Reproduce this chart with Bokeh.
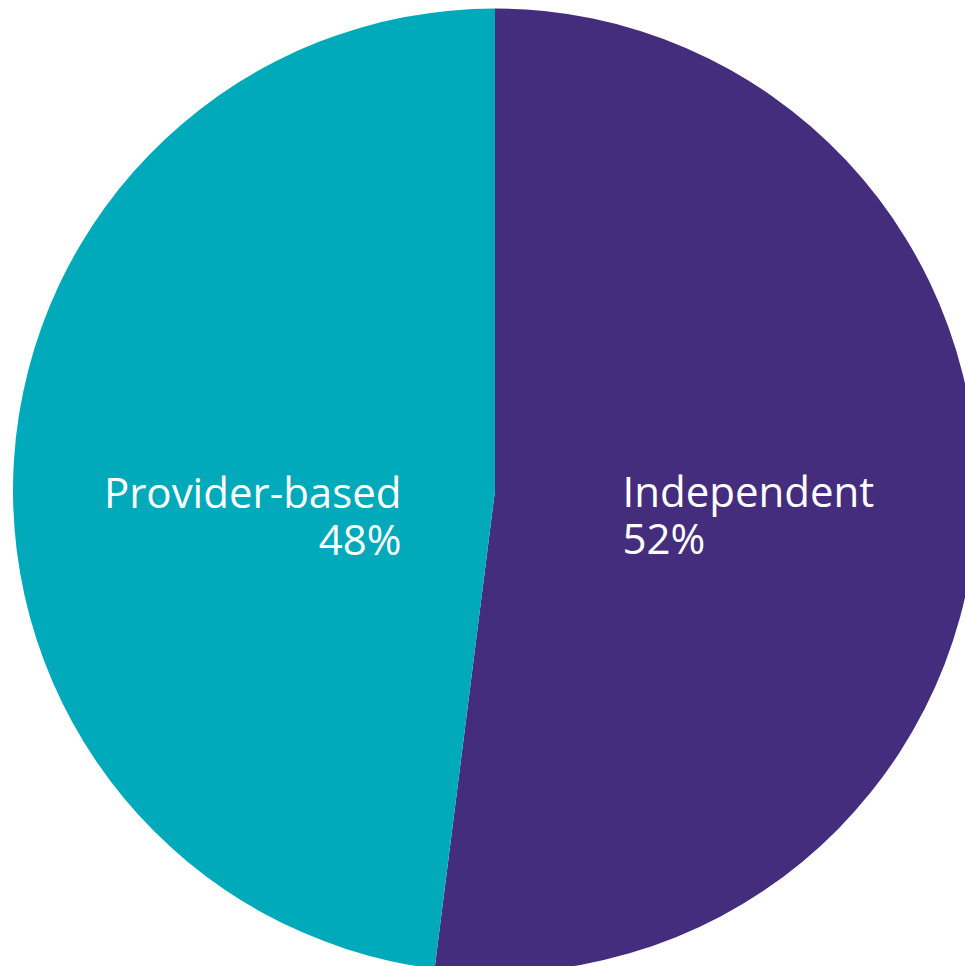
import math
from bokeh.plotting import figure
from bokeh.models import ColumnDataSource, Range1d
from bokeh.core.properties import value
from bokeh.embed import file_html
from bokeh.resources import INLINE

# ---- data ----
categories = ["Independent", "Provider-based"]
shares = [52, 48]
pct_labels = ["52%", "48%"]
colors = ["#452D7D", "#00AABB"]

# ---- layout ----
W, H = 965, 966
cx, cy, R = 494.5, 476.0, 482.0  # pie centre / radius in pixel-like data units

total = float(sum(shares))
starts, ends = [], []
cum = 0.0
for s in shares:
    a0 = math.pi / 2 - 2 * math.pi * (cum + s) / total
    a1 = math.pi / 2 - 2 * math.pi * cum / total
    starts.append(a0)
    ends.append(a1)
    cum += s

src = ColumnDataSource(dict(cat=categories, share=shares, start=starts, end=ends, color=colors))

p = figure(width=W, height=H, x_range=Range1d(0, W), y_range=Range1d(0, H),
           output_backend="svg", toolbar_location=None, min_border=0,
           background_fill_color="white", border_fill_color="white")
p.outline_line_color = None
p.axis.visible = False
p.grid.visible = False

p.wedge(x=cx, y=cy, radius=R, start_angle="start", end_angle="end",
        fill_color="color", line_color=None, source=src)

# labels: name line + percentage line
lab_x = [622, 401]
lab_align = ["left", "right"]
name_y = [476, 475]
pct_y = [429, 428]

for i in range(len(categories)):
    p.text(x=[lab_x[i]], y=[name_y[i]], text=[categories[i]],
           text_align=lab_align[i], text_baseline="alphabetic",
           text_font=value("Open Sans"), text_font_size="42px", text_color="white")
    p.text(x=[lab_x[i]], y=[pct_y[i]], text=[pct_labels[i]],
           text_align=lab_align[i], text_baseline="alphabetic",
           text_font=value("Open Sans"), text_font_size="42px", text_color="white")

open("out.html", "w").write(file_html(p, INLINE))
